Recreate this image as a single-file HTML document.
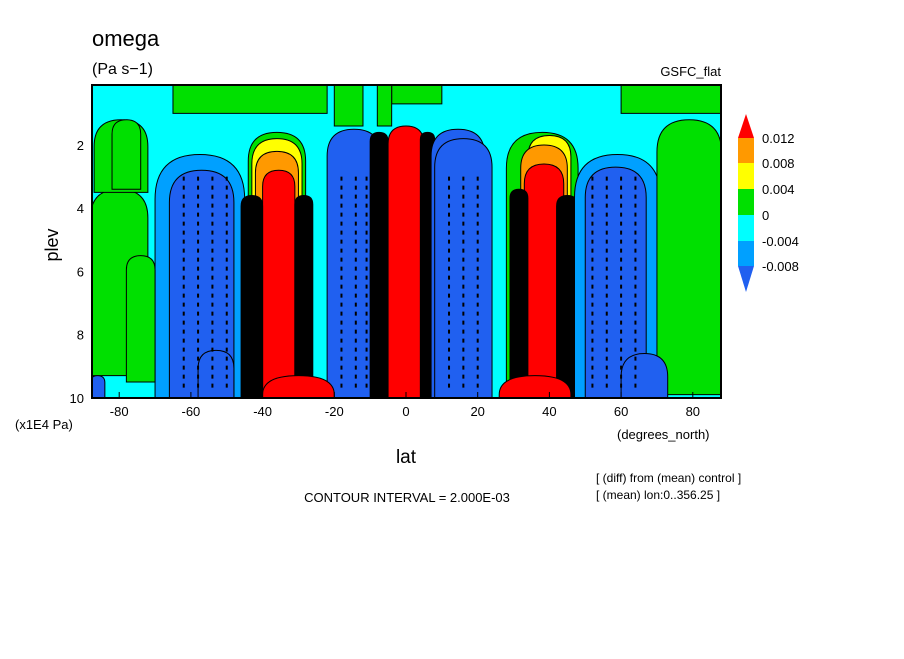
<!DOCTYPE html>
<html><head><meta charset="utf-8"><style>
body{margin:0;background:#fff;}
svg text{font-family:"Liberation Sans",sans-serif;fill:#000;}
</style></head><body>
<svg id="chart" width="904" height="654" viewBox="0 0 904 654" xmlns="http://www.w3.org/2000/svg">
<rect width="904" height="654" fill="#fff"/>
<defs><clipPath id="pc"><rect x="92" y="85" width="629" height="313"/></clipPath></defs>
<g id="field" clip-path="url(#pc)"></g>
<rect x="92" y="85" width="629" height="313" fill="none" stroke="#000" stroke-width="2"/>
<g id="axes"></g>
<text x="92" y="46" font-size="22">omega</text>
<text x="92" y="74" font-size="16">(Pa s−1)</text>
<text x="721" y="76" font-size="13" text-anchor="end">GSFC_flat</text>
<text x="15" y="429" font-size="13">(x1E4 Pa)</text>
<text x="617" y="439" font-size="13">(degrees_north)</text>
<text x="406" y="463" font-size="19" text-anchor="middle">lat</text>
<text x="58" y="245" font-size="18" text-anchor="middle" transform="rotate(-90 58 245)">plev</text>
<text x="407" y="502" font-size="13" text-anchor="middle">CONTOUR INTERVAL = 2.000E-03</text>
<text x="596" y="482" font-size="12">[ (diff) from (mean) control ]</text>
<text x="596" y="499" font-size="12">[ (mean) lon:0..356.25 ]</text>
<g id="cbar"></g>
</svg>
<script>
// axis tick data
const latTicks=[-80,-60,-40,-20,0,20,40,60,80];
const plevTicks=[2,4,6,8,10];
// colour levels
const levelColors=["#2060f0","#00a0ff","#00ffff","#00e000","#ffff00","#ff9900","#ff0000","#000000"];
const cbarLabels=["0.012","0.008","0.004","0","-0.004","-0.008"];
// features: lat range, pressure range (x1E4 Pa), colour level index
const featLat0=[-88,-87,-65,-20,-4,-8,-82,-70,-66,-44,-43,-42,-40,-46,-31,-22,-10,-5,4,7,8,28,34,32,33,29,42,47,50,60,70,-58,-88,60,-78,-40,26];
const featLat1=[-72,-72,-22,-12,10,-4,-74,-45,-48,-28,-29,-30,-31,-40,-26,-7,-5,5,8,22,24,48,46,45,44,34,48,71,67,88,88,-48,-84,73,-70,-20,46];
const featPtop=[3.4,1.2,0.1,0.1,0.1,0.1,1.2,2.3,2.8,1.6,1.8,2.2,2.8,3.6,3.6,1.5,1.6,1.4,1.6,1.5,1.8,1.6,1.7,2.0,2.6,3.4,3.6,2.3,2.7,0.1,1.2,8.5,9.3,8.6,5.5,9.3,9.3];
const featPbot=[9.3,3.5,1.0,1.4,0.7,1.4,3.4,10.5,10.5,10.5,10.5,10.5,10.5,10.5,10.5,10.5,10.5,10.5,10.5,10.5,10.5,10.5,10.5,10.5,10.5,10.5,10.5,10.5,10.5,1.0,9.9,10.5,10.5,10.5,9.5,10.5,10.5];
const featLevel=[3,3,3,3,3,3,3,1,0,3,4,5,6,7,7,0,7,6,7,0,0,3,4,5,6,7,7,1,0,3,3,0,0,0,3,6,6];

const NS="http://www.w3.org/2000/svg";
const xs=lat=>406+lat*3.585;
const ys=p=>145+(p-2)*31.6;
const field=document.getElementById('field');
const bg=document.createElementNS(NS,'rect');
bg.setAttribute('x',92);bg.setAttribute('y',85);bg.setAttribute('width',629);bg.setAttribute('height',313);bg.setAttribute('fill','#00ffff');


field.appendChild(bg);
for(let i=0;i<featLat0.length;i++){
  const x0=xs(featLat0[i]),x1=xs(featLat1[i]),y0=ys(featPtop[i]),y1=ys(featPbot[i]);
  const w=x1-x0,h=y1-y0;
  const r=Math.min(w/2,h/2,featPtop[i]<0.5?0:w/2);
  const el=document.createElementNS(NS,'path');
  const d=`M${x0},${y1} L${x0},${y0+r} Q${x0},${y0} ${x0+w/2},${y0} Q${x1},${y0} ${x1},${y0+r} L${x1},${y1} Z`;
  el.setAttribute('d',d);
  el.setAttribute('fill',levelColors[featLevel[i]]);
  el.setAttribute('stroke','#000');el.setAttribute('stroke-width','1');
  
  
  field.appendChild(el);
}
// dashed negative contours over blue cells
const dashLat=[-62,-58,-54,-50,-18,-14,-11,12,16,20,52,56,60,64];
for(let i=0;i<dashLat.length;i++){
  const l=document.createElementNS(NS,'line');
  l.setAttribute('x1',xs(dashLat[i]));l.setAttribute('x2',xs(dashLat[i]));
  l.setAttribute('y1',ys(3));l.setAttribute('y2',ys(9.8));
  l.setAttribute('stroke','#000');l.setAttribute('stroke-width','2');l.setAttribute('stroke-dasharray','4 5');
  
  
  field.appendChild(l);
}
// axes ticks
const ax=document.getElementById('axes');
latTicks.forEach(v=>{
  const t=document.createElementNS(NS,'text');
  t.setAttribute('x',xs(v));t.setAttribute('y',416);t.setAttribute('font-size','13');t.setAttribute('text-anchor','middle');
  t.textContent=v;
  
  
  ax.appendChild(t);
  const k=document.createElementNS(NS,'line');
  k.setAttribute('x1',xs(v));k.setAttribute('x2',xs(v));k.setAttribute('y1',392);k.setAttribute('y2',398);k.setAttribute('stroke','#000');
  
  
  ax.appendChild(k);
});
plevTicks.forEach(v=>{
  const t=document.createElementNS(NS,'text');
  t.setAttribute('x',84);t.setAttribute('y',ys(v)+5);t.setAttribute('font-size','13');t.setAttribute('text-anchor','end');
  t.textContent=v;
  
  
  ax.appendChild(t);
});
// colorbar
const cb=document.getElementById('cbar');
const cbY=[138,163,189,215,241,266];
const cbCols=["#ff9900","#ffff00","#00e000","#00ffff","#00a0ff"];
for(let i=0;i<5;i++){
  const r=document.createElementNS(NS,'rect');
  r.setAttribute('x',738);r.setAttribute('y',cbY[i]);r.setAttribute('width',16);r.setAttribute('height',cbY[i+1]-cbY[i]);
  r.setAttribute('fill',cbCols[i]);
  
  
  cb.appendChild(r);
}
const tri1=document.createElementNS(NS,'polygon');
tri1.setAttribute('points','738,138 754,138 746,114');tri1.setAttribute('fill','#ff0000');


cb.appendChild(tri1);
const tri2=document.createElementNS(NS,'polygon');
tri2.setAttribute('points','738,266 754,266 746,292');tri2.setAttribute('fill','#2060f0');


cb.appendChild(tri2);
cbarLabels.forEach((s,i)=>{
  const t=document.createElementNS(NS,'text');
  t.setAttribute('x',762);t.setAttribute('y',cbY[i]+5);t.setAttribute('font-size','13');
  t.textContent=s;
  
  
  cb.appendChild(t);
});
</script>
</body></html>
